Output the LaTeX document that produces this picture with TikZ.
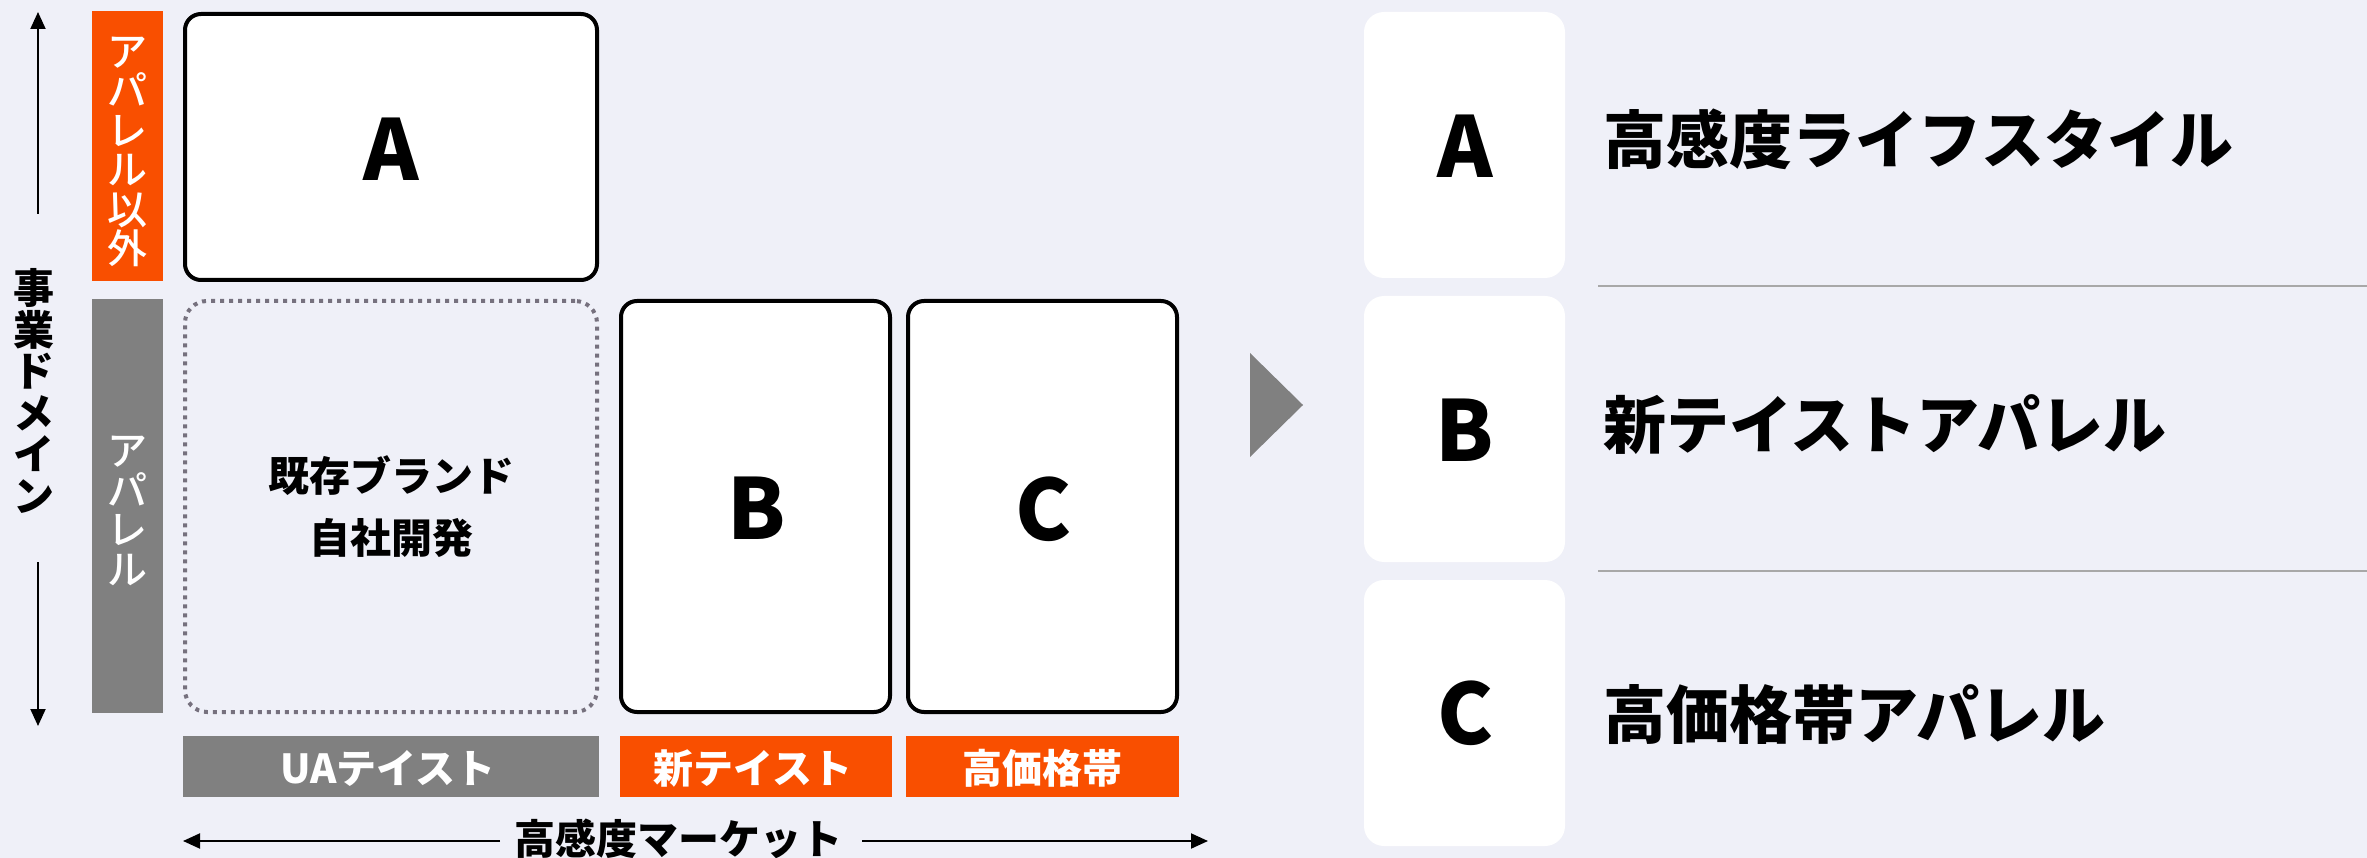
\documentclass[tikz,border=0pt]{standalone}
\usepackage{fontspec}
\setmainfont{Noto Sans CJK JP}
\newfontfamily\jpmed{Noto Sans CJK JP Medium}
\usetikzlibrary{arrows.meta}
\definecolor{bg}{HTML}{EFF0F8}
\definecolor{org}{HTML}{F94F00}
\definecolor{gry}{HTML}{808080}
\definecolor{dotc}{HTML}{76717E}
\definecolor{divc}{HTML}{A8A8A8}
\begin{document}
\begin{tikzpicture}[x=1pt,y=-1pt,
  every node/.style={inner sep=0pt, outer sep=0pt, font=\bfseries},
  bigbox/.style={draw=black, line width=4pt, fill=white, rounded corners=16pt},
  dotbox/.style={draw=dotc, line width=4pt, dash pattern=on 4pt off 5pt, rounded corners=22pt},
  orgbar/.style={fill=org},
  grybar/.style={fill=gry},
  card/.style={fill=white, rounded corners=20pt},
  bartext/.style={text=white, anchor=base, font=\bfseries\fontsize{40}{40}\selectfont},
  vtxt/.style={align=center, font=\jpmed\fontsize{40}{39.5}\selectfont},
  sidetxt/.style={align=center, font=\bfseries\fontsize{41}{41.5}\selectfont},
  letter/.style={font=\bfseries\fontsize{84}{84}\selectfont, anchor=base},
  rtext/.style={font=\bfseries\fontsize{63}{63}\selectfont, anchor=base west},
  axis/.style={line width=2pt, -{Triangle[width=15pt,length=17pt]}},
  divline/.style={draw=divc, line width=2pt}
]
\fill[bg] (0,0) rectangle (2367,858);
\useasboundingbox (0,0) rectangle (2367,858);

% vertical axis
\node[sidetxt] (vlab) at (34,391) {事\\業\\ド\\メ\\イ\\ン};
\coordinate (vt) at (38,12);
\coordinate (vb) at (38,726);
\draw[axis, shorten <=55pt] (vlab.north -| vt) -- (vt);
\draw[axis, shorten <=49pt] (vlab.south -| vb) -- (vb);

% side bars
\node[orgbar, minimum width=71pt, minimum height=270pt] (barA) at (127.5,146) {};
\node[vtxt, text=white] (barAtxt) at (127.5,152) {ア\\パ\\レ\\ル\\以\\外};
\node[grybar, minimum width=71pt, minimum height=414pt] (barB) at (127.5,506) {};
\node[vtxt, text=white] (barBtxt) at (127.5,511) {ア\\パ\\レ\\ル};

% matrix boxes
\node[bigbox, minimum width=412pt, minimum height=266pt] (boxA) at (391,147) {};
\node[letter] (lA) at (391,181) {A};
\node[dotbox, minimum width=412pt, minimum height=411pt] (boxU) at (391,506.5) {};
\node[align=center, font=\bfseries\fontsize{41}{62}\selectfont] (utxt) at (391,506.5) {既存ブランド\\自社開発};
\node[bigbox, minimum width=269pt, minimum height=411pt] (boxB) at (755.5,506.5) {};
\node[letter] (lB) at (757,539) {B};
\node[bigbox, minimum width=269pt, minimum height=411pt] (boxC) at (1042.5,506.5) {};
\node[letter] (lC) at (1044,540) {C};

% bottom tags
\node[grybar, minimum width=416pt, minimum height=61pt] (tagU) at (391,766.5) {};
\node[bartext] (tagUtxt) at (388,783) {UAテイスト};
\node[orgbar, minimum width=272pt, minimum height=61pt] (tagB) at (756,766.5) {};
\node[bartext] (tagBtxt) at (753,783) {新テイスト};
\node[orgbar, minimum width=273pt, minimum height=61pt] (tagC) at (1042.5,766.5) {};
\node[bartext] (tagCtxt) at (1042,783) {高価格帯};

% horizontal axis
\node[anchor=base, font=\bfseries\fontsize{41}{41}\selectfont] (htxt) at (678,854) {高感度マーケット};
\coordinate (hl) at (183,841);
\coordinate (hr) at (1208,841);
\draw[axis, shorten <=14pt] (htxt.west |- hl) -- (hl);
\draw[axis, shorten <=20pt] (htxt.east |- hr) -- (hr);

% big arrow
\fill[gry] (1250,353) -- (1303,405) -- (1250,457) -- cycle;

% right panel
\node[card, minimum width=201pt, minimum height=266pt] (cA) at (1464.5,145) {};
\node[card, minimum width=201pt, minimum height=266pt] (cB) at (1464.5,429) {};
\node[card, minimum width=201pt, minimum height=266pt] (cC) at (1464.5,713) {};
\node[letter] (rA) at (1465,178) {A};
\node[letter] (rB) at (1465,461) {B};
\node[letter] (rC) at (1465,744) {C};
\node[rtext] (tA) at (1603,164) {高感度ライフスタイル};
\node[rtext] (tB) at (1603,449) {新テイストアパレル};
\node[rtext] (tC) at (1603,738) {高価格帯アパレル};
\draw[divline] (1598,286) -- (2367,286);
\draw[divline] (1598,571) -- (2367,571);
\end{tikzpicture}
\end{document}
